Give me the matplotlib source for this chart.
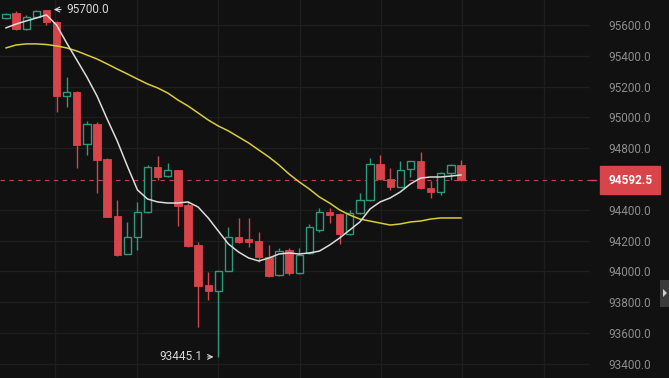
import matplotlib
matplotlib.use("Agg")
import matplotlib.pyplot as plt
import matplotlib.patches as patches
import numpy as np

# candle data, one entry per candle
opens = [95645, 95678, 95574, 95652, 95697, 95619, 95139, 95165, 94827, 94957,
         94730, 94360, 94113, 94224, 94386, 94678, 94619, 94658, 94431, 94171,
         93912, 93873, 94003, 94224, 94211, 94197, 94094, 93977, 94139, 93990,
         94120, 94269, 94386, 94373, 94243, 94379, 94464, 94697, 94600, 94548,
         94665, 94717, 94542, 94516, 94639, 94691]
highs = [95680, 95691, 95665, 95695, 95700, 95625, 95262, 95170, 94977, 94970,
         94735, 94464, 94321, 94451, 94691, 94749, 94704, 94660, 94457, 94191,
         93996, 94003, 94288, 94347, 94347, 94256, 94171, 94152, 94152, 94152,
         94308, 94412, 94412, 94380, 94399, 94509, 94736, 94756, 94671, 94717,
         94720, 94775, 94587, 94645, 94695, 94723]
lows = [95640, 95570, 95570, 95650, 95600, 95035, 95068, 94671, 94756, 94509,
        94350, 94100, 94110, 94139, 94380, 94594, 94615, 94295, 94160, 93639,
        93814, 93445.1, 94000, 94185, 94159, 94061, 93965, 93970, 93975, 93985,
        94115, 94256, 94314, 94178, 94238, 94375, 94460, 94595, 94529, 94545,
        94613, 94538, 94477, 94496, 94594, 94585]
closes = [95671, 95574, 95652, 95691, 95619, 95139, 95165, 94821, 94957, 94723,
          94353, 94107, 94224, 94386, 94678, 94613, 94658, 94425, 94165, 93905,
          93873, 94003, 94224, 94191, 94191, 94094, 93970, 94132, 93990, 94107,
          94288, 94386, 94366, 94243, 94379, 94464, 94697, 94600, 94548, 94658,
          94717, 94542, 94516, 94639, 94691, 94592.5]

# short moving average (white) and long moving average (yellow)
ma_short = [95581, 95606, 95626, 95645, 95665, 95600, 95483, 95373, 95262, 95139,
            94990, 94847, 94684, 94529, 94470, 94451, 94444, 94444, 94451, 94418,
            94347, 94262, 94178, 94126, 94087, 94068, 94087, 94113, 94120, 94113,
            94120, 94132, 94171, 94217, 94269, 94321, 94405, 94451, 94477, 94516,
            94568, 94606, 94613, 94613, 94619, 94626]
ma_long = [95451, 95470, 95477, 95477, 95473, 95464, 95451, 95431, 95405, 95379,
           95347, 95314, 95282, 95249, 95217, 95191, 95158, 95113, 95074, 95029,
           94983, 94944, 94912, 94873, 94834, 94788, 94743, 94691, 94632, 94581,
           94535, 94483, 94444, 94399, 94366, 94340, 94327, 94314, 94301, 94308,
           94321, 94327, 94340, 94347, 94347, 94347]

last_price = 94592.5
max_price = 95700.0
min_price = 93445.1
price_ticks = [93400, 93600, 93800, 94000, 94200, 94400,
               94800, 95000, 95200, 95400, 95600]

BG = "#111111"
RED = "#d9434a"
GREEN = "#2e9a7c"
GRID = "#1e1e1e"

fig = plt.figure(figsize=(6.69, 3.78), dpi=100, facecolor=BG)
ax = fig.add_axes([0, 0, 590 / 669, 1])
ax.set_facecolor(BG)

x = np.arange(len(opens))
w = 0.72
for i in x:
    o, h, l, c = opens[i], highs[i], lows[i], closes[i]
    up = c >= o
    col = GREEN if up else RED
    ax.vlines(i, l, h, color=col, linewidth=1.0, zorder=2)
    bottom = min(o, c)
    height = max(abs(c - o), 6)
    if up:
        # hollow body for rising candles
        ax.add_patch(patches.Rectangle((i - w / 2, bottom), w, height,
                                       facecolor=BG, edgecolor=col, linewidth=1.0, zorder=3))
    else:
        ax.add_patch(patches.Rectangle((i - w / 2, bottom), w, height,
                                       facecolor=col, edgecolor=col, linewidth=0.6, zorder=3))

ax.plot(x, ma_long, color="#d9cc3a", linewidth=1.1, zorder=4)
ax.plot(x, ma_short, color="#dcdcdc", linewidth=1.1, zorder=4)

ax.axhline(last_price, color="#b04a4f", linewidth=0.8, dashes=(4, 4), zorder=1)

ax.set_xlim(-0.593, 57.76)
ax.set_ylim(93308, 95762)

# grid
ax.set_xticks([4.85, 12.96, 20.97, 29.08, 37.09, 45.1, 53.2])
ax.set_yticks(price_ticks)
ax.grid(True, color=GRID, linewidth=1.0, zorder=0)
ax.set_axisbelow(True)
ax.tick_params(axis="x", length=0, labelbottom=False)
ax.yaxis.tick_right()
ax.tick_params(axis="y", length=0, pad=13, labelsize=8.5, labelcolor="#8c8c8c")
ax.set_yticklabels([f"{p:.1f}" for p in price_ticks], family="Roboto")
for s in ax.spines.values():
    s.set_visible(False)

# high / low annotations
i_hi = int(np.argmax(highs))
i_lo = int(np.argmin(lows))
ax.annotate(f"{max_price:.1f}", xy=(i_hi + 0.45, max_price), xytext=(i_hi + 2.0, max_price),
            color="#d8d8d8", fontsize=8.5, family="Roboto", va="center", ha="left",
            arrowprops=dict(arrowstyle="->", color="#d8d8d8", lw=0.8))
ax.annotate(f"{min_price:.1f}", xy=(i_lo - 0.2, min_price), xytext=(i_lo - 1.6, min_price),
            color="#d8d8d8", fontsize=8.5, family="Roboto", va="center", ha="right",
            arrowprops=dict(arrowstyle="->", color="#d8d8d8", lw=0.8))

# last price tag on the axis
ax.annotate(f"{last_price:.1f}", xy=(1.0, last_price), xycoords=("axes fraction", "data"),
            xytext=(13, 0), textcoords="offset points", va="center", ha="left",
            color="white", fontsize=8.5, fontweight="bold", family="Roboto",
            bbox=dict(boxstyle="square,pad=0.65", fc=RED, ec=RED), annotation_clip=False)
ax.plot([1.0, 1.0 + 6 / 590], [last_price, last_price], transform=ax.get_yaxis_transform(),
        color="#c04a50", linewidth=1.0, clip_on=False)

# scroll handle on the right edge
fig.patches.append(patches.Rectangle((660 / 669, 1 - 307 / 378), 9 / 669, 27 / 378,
                                     transform=fig.transFigure, facecolor="#3a3a3a",
                                     edgecolor="none"))
fig.patches.append(patches.Polygon([(663 / 669, 1 - 289 / 378), (663 / 669, 1 - 297 / 378),
                                    (667 / 669, 1 - 293 / 378)], closed=True,
                                   transform=fig.transFigure, facecolor="#cfcfcf",
                                   edgecolor="none"))

fig.savefig("out.png", dpi=100, facecolor=BG)
